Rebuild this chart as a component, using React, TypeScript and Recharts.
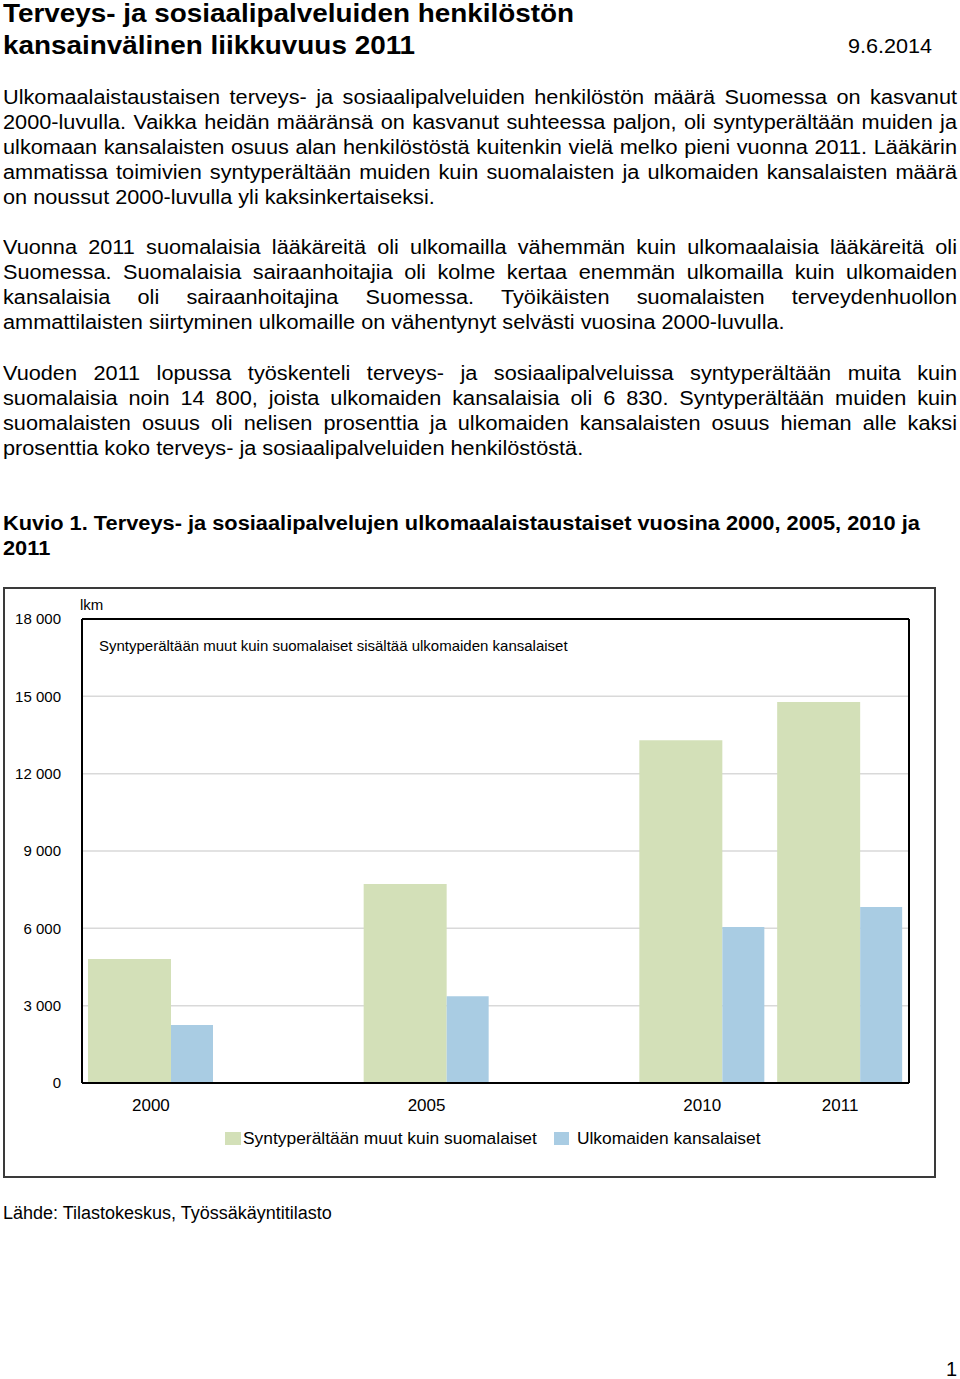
import { BarChart, Bar, XAxis, YAxis, CartesianGrid, Legend, ReferenceLine } from 'recharts';

// slots on the category axis; null = empty year gap
const slots: (string | null)[] = ['2000', null, '2005', null, '2010', '2011'];
const syntyperaltaanMuut: (number | null)[] = [4810, null, 7720, null, 13300, 14780];
const ulkomaidenKansalaiset: (number | null)[] = [2250, null, 3370, null, 6050, 6830];
const yTicks = [0, 3000, 6000, 9000, 12000, 15000, 18000];

const GREEN = '#d3e0b8';
const BLUE = '#a9cce3';
const FONT = '"Liberation Sans", Arial, Helvetica, sans-serif';
const SX = 1.085; // source text is a bit wider than Liberation Sans

const data = slots.map((year, i) => ({
  slot: `s${i}`,
  year: year ?? '',
  muut: syntyperaltaanMuut[i],
  ulk: ulkomaidenKansalaiset[i],
}));

const p1 = [
  'Ulkomaalaistaustaisen terveys- ja sosiaalipalveluiden henkilöstön määrä Suomessa on kasvanut',
  '2000-luvulla. Vaikka heidän määränsä on kasvanut suhteessa paljon, oli syntyperältään muiden ja',
  'ulkomaan kansalaisten osuus alan henkilöstöstä kuitenkin vielä melko pieni vuonna 2011. Lääkärin',
  'ammatissa toimivien syntyperältään muiden kuin suomalaisten ja ulkomaiden kansalaisten määrä',
  'on noussut 2000-luvulla yli kaksinkertaiseksi.',
];
const p2 = [
  'Vuonna 2011 suomalaisia lääkäreitä oli ulkomailla vähemmän kuin ulkomaalaisia lääkäreitä oli',
  'Suomessa. Suomalaisia sairaanhoitajia oli kolme kertaa enemmän ulkomailla kuin ulkomaiden',
  'kansalaisia oli sairaanhoitajina Suomessa. Työikäisten suomalaisten terveydenhuollon',
  'ammattilaisten siirtyminen ulkomaille on vähentynyt selvästi vuosina 2000-luvulla.',
];
const p3 = [
  'Vuoden 2011 lopussa työskenteli terveys- ja sosiaalipalveluissa syntyperältään muita kuin',
  'suomalaisia noin 14 800, joista ulkomaiden kansalaisia oli 6 830. Syntyperältään muiden kuin',
  'suomalaisten osuus oli nelisen prosenttia ja ulkomaiden kansalaisten osuus hieman alle kaksi',
  'prosenttia koko terveys- ja sosiaalipalveluiden henkilöstöstä.',
];

const fmt = (v: number) => String(v).replace(/\B(?=(\d{3})+(?!\d))/g, ' ');

const wide = (sx: number): React.CSSProperties => ({ transform: `scaleX(${sx})`, transformOrigin: 'left center' });

function Para({ lines, top }: { lines: string[]; top: number }) {
  return (
    <>
      {lines.map((l, i) => (
        <div
          key={i}
          style={{
            position: 'absolute',
            left: 3,
            top: top + i * 25 - 12.5,
            width: 954 / SX,
            height: 25,
            lineHeight: '25px',
            fontSize: 20,
            whiteSpace: 'nowrap',
            textAlign: 'justify',
            textAlignLast: i === lines.length - 1 ? 'left' : 'justify',
            ...wide(SX),
          }}
        >
          {l}
        </div>
      ))}
    </>
  );
}

function LegendContent() {
  const items = [
    { label: 'Syntyperältään muut kuin suomalaiset', color: GREEN, w: 16, gap: 2 },
    { label: 'Ulkomaiden kansalaiset', color: BLUE, w: 15, gap: 8 },
  ];
  return (
    <div style={{ display: 'flex', fontFamily: FONT, fontSize: 17.4, color: '#000', lineHeight: '22px' }}>
      {items.map((it, i) => (
        <div key={i} style={{ display: 'flex', alignItems: 'center', marginRight: 17 }}>
          <span style={{ width: it.w, height: 13, background: it.color, marginRight: it.gap, display: 'inline-block' }} />
          <span>{it.label}</span>
        </div>
      ))}
    </div>
  );
}

export default function App() {
  return (
    <div style={{ position: 'absolute', left: 0, top: 0, width: 960, height: 1379, fontFamily: FONT, color: '#000', background: '#fff' }}>
      <div style={{ position: 'absolute', left: 3, top: 0, fontSize: 26, fontWeight: 'bold', lineHeight: '32px', whiteSpace: 'nowrap', ...wide(1.072) }}>
        <div style={{ height: 32, lineHeight: '26px' }}>Terveys- ja sosiaalipalveluiden henkilöstön</div>
        <div style={{ height: 32, lineHeight: '26px' }}>kansainvälinen liikkuvuus 2011</div>
      </div>
      <div style={{ position: 'absolute', left: 848, top: 34, fontSize: 20, lineHeight: '24px', ...wide(1.08) }}>9.6.2014</div>

      <Para lines={p1} top={97} />
      <Para lines={p2} top={247} />
      <Para lines={p3} top={373} />

      <div style={{ position: 'absolute', left: 3, top: 510.5, fontSize: 20, fontWeight: 'bold', lineHeight: '25px', whiteSpace: 'nowrap', ...wide(1.09) }}>
        <div>Kuvio 1. Terveys- ja sosiaalipalvelujen ulkomaalaistaustaiset vuosina 2000, 2005, 2010 ja</div>
        <div>2011</div>
      </div>

      <div style={{ position: 'absolute', left: 3, top: 587, width: 929, height: 587, border: '2px solid #3a3a3a' }} />

      <div style={{ position: 'absolute', left: 0, top: 587 }}>
        <BarChart
          width={935}
          height={590}
          data={data}
          margin={{ top: 32, right: 26, bottom: 32, left: 0 }}
          barGap={0}
        >
          <CartesianGrid vertical={false} stroke="#d9d9d9" strokeWidth={1.5} />
          {/* right edge of the plot frame */}
          <CartesianGrid
            horizontal={false}
            stroke="#000"
            strokeWidth={2}
            verticalCoordinatesGenerator={({ offset }: any) => [offset.left + offset.width]}
          />
          <XAxis
            dataKey="slot"
            tickFormatter={(v: string) => data.find((d) => d.slot === v)?.year ?? ''}
            axisLine={{ stroke: '#000', strokeWidth: 2 }}
            tickLine={false}
            tickSize={0}
            tickMargin={16}
            height={40}
            interval={0}
            tick={{ fill: '#000', fontSize: 17, fontFamily: FONT }}
          />
          <YAxis
            domain={[0, 18000]}
            ticks={yTicks}
            tickFormatter={fmt}
            axisLine={{ stroke: '#000', strokeWidth: 2 }}
            tickLine={false}
            tickSize={0}
            tickMargin={21}
            width={82}
            interval={0}
            tick={{ fill: '#000', fontSize: 15, fontFamily: FONT }}
          />
          <Legend
            verticalAlign="bottom"
            content={() => <LegendContent />}
            wrapperStyle={{ left: 225, width: 600, top: 540, bottom: 'auto' }}
          />
          <Bar dataKey="muut" name="Syntyperältään muut kuin suomalaiset" fill={GREEN} barSize={83} isAnimationActive={false} />
          <Bar dataKey="ulk" name="Ulkomaiden kansalaiset" fill={BLUE} barSize={42} isAnimationActive={false} />
          <ReferenceLine y={18000} stroke="#000" strokeWidth={2} />
        </BarChart>
      </div>

      <div style={{ position: 'absolute', left: 80, top: 596, fontSize: 15, lineHeight: '18px' }}>lkm</div>
      <div style={{ position: 'absolute', left: 99, top: 637, fontSize: 15, lineHeight: '18px', whiteSpace: 'nowrap' }}>
        Syntyperältään muut kuin suomalaiset sisältää ulkomaiden kansalaiset
      </div>

      <div style={{ position: 'absolute', left: 3, top: 1202, fontSize: 18, lineHeight: '22px', whiteSpace: 'nowrap' }}>
        Lähde: Tilastokeskus, Työssäkäyntitilasto
      </div>
      <div style={{ position: 'absolute', left: 946, top: 1357, fontSize: 20, lineHeight: '24px' }}>1</div>
    </div>
  );
}
